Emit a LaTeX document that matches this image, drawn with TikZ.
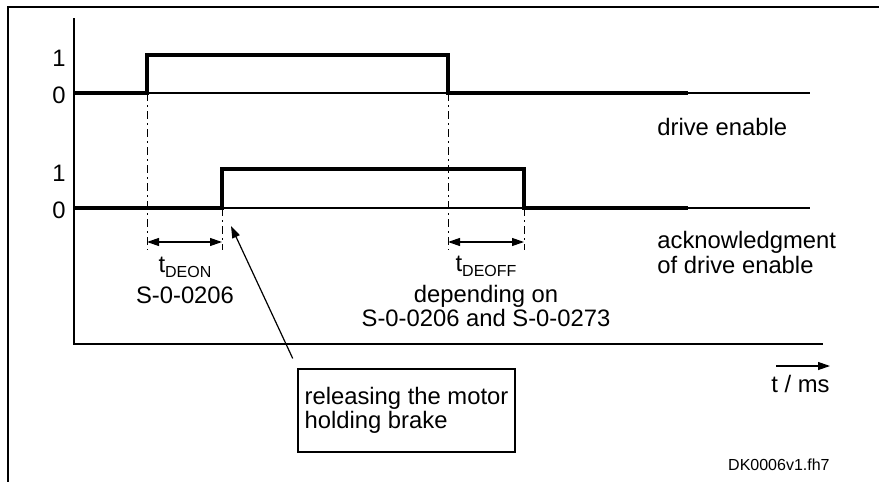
\documentclass[tikz,border=0pt]{standalone}
\usepackage{fontspec}
\setmainfont{Liberation Sans}
\usetikzlibrary{arrows.meta}
\newcommand{\lowidx}[1]{\raisebox{-2.5pt}{\fontsize{8}{8}\selectfont #1}}

\begin{document}
\begin{tikzpicture}[
  x=0.5pt, y=-0.5pt,
  framerule/.style={line width=1pt},
  axisline/.style={line width=0.6pt},
  sigline/.style={line width=1.7pt, line join=miter},
  guide/.style={line width=0.5pt, dash pattern=on 4pt off 2pt on 1pt off 2pt},
  dimarr/.style={{Triangle[length=6pt,width=4pt]}-{Triangle[length=6pt,width=4pt]}, line width=0.6pt},
  ptr/.style={-{Triangle[length=6pt,width=4pt]}, line width=0.6pt},
  lbl/.style={font=\fontsize{11.9}{12.2}\selectfont, inner sep=0pt},
  notebox/.style={draw, line width=0.6pt, minimum width=106.5pt, minimum height=41.5pt, align=left, font=\fontsize{11.9}{12}\selectfont},
]
  \useasboundingbox (0,0) rectangle (879,482);

  % Frame
  \draw[framerule] (879,7) -- (8,7) -- (8,482);

  % Axes
  \draw[axisline] (74,18) -- (74,344) -- (823,344);
  \draw[axisline] (74,93) -- (810,93);
  \draw[axisline] (74,208) -- (810,208);

  % Level labels
  \node[lbl] (hiA) at (59,58.5) {1};
  \node[lbl] (loA) at (59,95) {0};
  \node[lbl] (hiB) at (59,173) {1};
  \node[lbl] (loB) at (59,210) {0};

  % Drive enable
  \draw[sigline] (74,93) -- (147,93) -- (147,55) -- (448,55) -- (448,93) -- (688,93);
  \node[lbl, anchor=base west] (enab) at (657,135) {drive enable};

  % Acknowledgment
  \draw[sigline] (74,208) -- (222,208) -- (222,169) -- (524,169) -- (524,208) -- (688,208);
  \node[lbl, anchor=base west, align=left] (ack) at (657,273) {acknowledgment\\of drive enable};

  % Edges and delays
  \coordinate (onA) at (147,242);
  \coordinate (onB) at (222,242);
  \coordinate (offA) at (448,242);
  \coordinate (offB) at (524,242);
  \draw[guide] (147,93) -- (147,250);
  \draw[guide] (222,208) -- (222,250);
  \draw[guide] (448,93) -- (448,250);
  \draw[guide] (524,208) -- (524,250);
  \draw[dimarr] (onA) -- (onB);
  \draw[dimarr] (offA) -- (offB);
  \node[lbl, anchor=base, align=center] (deon) at (185,303) {t\lowidx{DEON}\\[3.3pt]S-0-0206};
  \node[lbl, anchor=base, align=center, font=\fontsize{11.9}{11.6}\selectfont] (deoff) at (486,326) {t\lowidx{DEOFF}\\[3.9pt]depending on\\S-0-0206 and S-0-0273};

  % Brake note
  \node[notebox] (brake) at (406.5,410.5) {releasing the motor\\holding brake};
  \coordinate (relpt) at (231,226);
  \draw[ptr, shorten <=5.5pt] (brake.north west) -- (relpt);

  % Time axis
  \coordinate (tA) at (776,366);
  \coordinate (tB) at (830,366);
  \draw[ptr] (tA) -- (tB);
  \node[lbl, anchor=base east] (tms) at (830,392) {t / ms};
  \node[font=\fontsize{8}{9}\selectfont, inner sep=0pt, anchor=base east] (tag) at (830,470) {DK0006v1.fh7};
\end{tikzpicture}
\end{document}
